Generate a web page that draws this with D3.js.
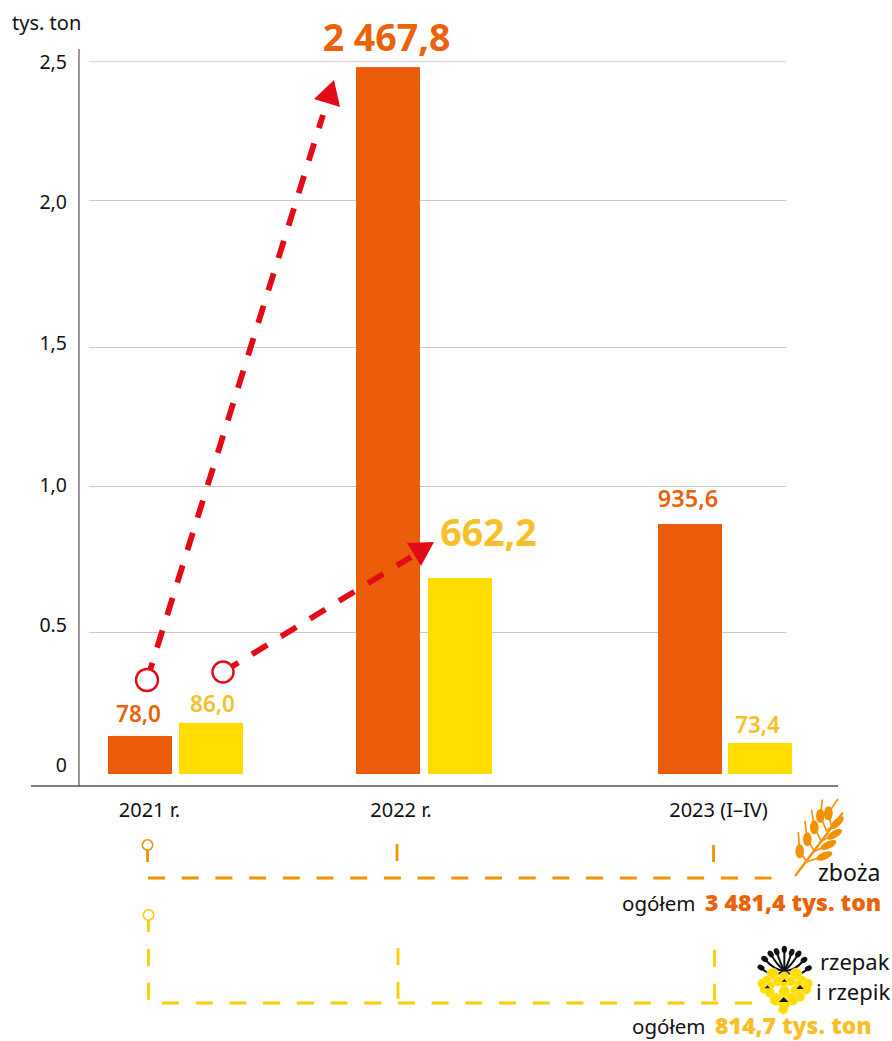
<!DOCTYPE html>
<html>
<head>
<meta charset="utf-8">
<script src="https://cdn.jsdelivr.net/npm/d3@7"></script>
<style>
  body { margin: 0; background: #fff; }
  svg { display: block; font-family: "Noto Sans", sans-serif; }
</style>
</head>
<body>
<div id="my_dataviz"></div>
<script>
// categories and values
const years = ["2021 r.", "2022 r.", "2023 (I–IV)"]
const zbozaLabels = ["78,0", "2 467,8", "935,6"]
const rzepakLabels = ["86,0", "662,2", "73,4"]
// bar heights as read against the axis of the picture (mln ton scale)
const zbozaHeights = [0.134, 2.478, 0.87]
const rzepakHeights = [0.18, 0.685, 0.109]
const tickValues = [0, 0.5, 1, 1.5, 2, 2.5]
const tickLabels = ["0", "0.5", "1,0", "1,5", "2,0", "2,5"]

const orange = "#eb5c0b"
const yellow = "#ffdd00"
const red = "#e30b17"
const orangeText = "#eb6209"
const yellowText = "#f8bf2a"
const orangeDash = "#f39200"
const yellowDash = "#ffcc00"

const svg = d3.select("#my_dataviz")
  .append("svg")
  .attr("width", 892)
  .attr("height", 1041)

// the grid in the picture is not quite even, so the scale goes through each tick
const yScale = d3.scaleLinear()
  .domain(tickValues)
  .range([774, 632, 486, 347, 200, 61])
const yLabel = d3.scaleLinear().domain(tickValues).range([771, 631, 491, 349, 208, 68])

const xZboza = d3.scaleOrdinal().domain(years).range([108, 356, 658])
const xRzepak = d3.scaleOrdinal().domain(years).range([179, 428, 728])
const xYear = d3.scaleOrdinal().domain(years).range([149.5, 401, 718.5])
const barWidth = 64

// gridlines
svg.append("g")
  .selectAll("line")
  .data(tickValues.slice(1))
  .join("line")
  .attr("x1", 89)
  .attr("x2", 786)
  .attr("y1", d => yScale(d) + 0.5)
  .attr("y2", d => yScale(d) + 0.5)
  .attr("stroke", d => d == 2.5 ? "#dedede" : "#c9c9c9")
  .attr("stroke-width", d => d == 2.5 ? 1.5 : 1)

// y axis
const yAxis = d3.axisLeft(yLabel)
  .tickValues(tickValues)
  .tickFormat((d, i) => tickLabels[i])
  .tickSize(0)
  .tickPadding(0)
svg.append("g")
  .attr("transform", "translate(67,0)")
  .call(yAxis)
  .call(g => g.select(".domain").remove())
  .selectAll("text")
  .attr("dy", 0)
  .attr("fill", "#111")
  .style("font-family", "'Noto Sans', sans-serif")
  .style("font-size", "19.5px")

svg.append("line")
  .attr("x1", 79).attr("x2", 79)
  .attr("y1", 49).attr("y2", 786)
  .attr("stroke", "#777").attr("stroke-width", 1.5)

svg.append("text")
  .attr("x", 12).attr("y", 30)
  .attr("font-size", 20).attr("fill", "#111")
  .text("tys. ton")

// bars
svg.append("g")
  .selectAll("rect")
  .data(years)
  .join("rect")
  .attr("x", d => xZboza(d))
  .attr("y", (d, i) => yScale(zbozaHeights[i]))
  .attr("width", barWidth)
  .attr("height", (d, i) => yScale(0) - yScale(zbozaHeights[i]))
  .attr("fill", orange)

svg.append("g")
  .selectAll("rect")
  .data(years)
  .join("rect")
  .attr("x", d => xRzepak(d))
  .attr("y", (d, i) => yScale(rzepakHeights[i]))
  .attr("width", barWidth)
  .attr("height", (d, i) => yScale(0) - yScale(rzepakHeights[i]))
  .attr("fill", yellow)

// x axis
svg.append("line")
  .attr("x1", 31).attr("x2", 838)
  .attr("y1", 786).attr("y2", 786)
  .attr("stroke", "#555").attr("stroke-width", 1.5)

svg.append("g")
  .selectAll("text")
  .data(years)
  .join("text")
  .attr("x", d => xYear(d))
  .attr("y", 817)
  .attr("text-anchor", "middle")
  .attr("font-size", 20)
  .attr("fill", "#111")
  .text(d => d)

// value labels
function valueLabel(txt, cx, y, size, color, weight) {
  svg.append("text")
    .attr("x", cx).attr("y", y)
    .attr("text-anchor", "middle")
    .attr("font-size", size)
    .attr("font-weight", weight)
    .attr("fill", color)
    .text(txt)
}
valueLabel(zbozaLabels[0], 138.5, 722, 22.5, orangeText, 600)
valueLabel(zbozaLabels[1], 386.5, 51, 37.5, orangeText, 700)
valueLabel(zbozaLabels[2], 688, 507, 23.5, orangeText, 600)
valueLabel(rzepakLabels[0], 212.5, 712, 22.5, yellowText, 600)
valueLabel(rzepakLabels[1], 488.5, 546, 37.5, yellowText, 700)
valueLabel(rzepakLabels[2], 757.5, 733, 22.5, yellowText, 600)

// red arrows: the dashes run out of the middle of the ring, its white fill hides them
function arrow(cx, cy, r, x2, y2, head) {
  svg.append("line")
    .attr("x1", cx).attr("y1", cy).attr("x2", x2).attr("y2", y2)
    .attr("stroke", red).attr("stroke-width", 5.8)
    .attr("stroke-dasharray", "18 16")
  svg.append("circle")
    .attr("cx", cx).attr("cy", cy).attr("r", r)
    .attr("fill", "#fff").attr("stroke", red).attr("stroke-width", 2.4)
  svg.append("polygon")
    .attr("points", head.join(" "))
    .attr("fill", red)
}
arrow(147, 680, 11, 323, 115, ["334,80", "314,99", "340,107"])
arrow(223, 672, 10.5, 411, 557, ["407,543", "434,542", "421,566"])

// dashed brackets under the chart
function dash(color, x1, y1, x2, y2, w) {
  svg.append("line")
    .attr("x1", x1).attr("y1", y1).attr("x2", x2).attr("y2", y2)
    .attr("stroke", color).attr("stroke-width", w || 2.8)
    .attr("stroke-dasharray", "17 16.7")
}
function pin(color, cx, cy) {
  svg.append("circle")
    .attr("cx", cx).attr("cy", cy).attr("r", 5.2)
    .attr("fill", "none").attr("stroke", color).attr("stroke-width", 1.6)
  svg.append("line")
    .attr("x1", cx).attr("y1", cy + 5).attr("x2", cx).attr("y2", cy + 17)
    .attr("stroke", color).attr("stroke-width", 2.8)
}
pin(orangeDash, 147.5, 845)
dash(orangeDash, 397, 844, 397, 861)
dash(orangeDash, 713.5, 845, 713.5, 862)
dash(orangeDash, 148, 878, 772, 878)

pin(yellowDash, 148.5, 915)
dash(yellowDash, 148.5, 949, 148.5, 1000)
dash(yellowDash, 398, 948, 398, 999)
dash(yellowDash, 714.5, 950, 714.5, 1001)
dash(yellowDash, 162, 1003, 752, 1003)

// wheat icon, drawn in zoomed units
const wheat = svg.append("g")
  .attr("transform", "translate(785,790) scale(0.3333)")
  .attr("fill", orangeDash)
  .attr("stroke", orangeDash)
  .attr("stroke-linecap", "round")
wheat.append("line").attr("x1", 32).attr("y1", 256).attr("x2", 172).attr("y2", 70)
  .attr("stroke-width", 7)
// body x, body y, awn tip x, awn tip y, foot on the stem x, y
const grainsLeft = [[44, 184, 40, 128, 66, 216], [67, 148, 60, 95, 88, 184], [88, 112, 80, 62, 108, 152], [106, 78, 112, 30, 124, 122], [130, 70, 158, 28, 138, 104]]
grainsLeft.forEach(g => {
  wheat.append("ellipse").attr("cx", g[0]).attr("cy", g[1]).attr("rx", 13).attr("ry", 21)
    .attr("stroke", "none")
  wheat.append("line").attr("x1", g[0]).attr("y1", g[1]).attr("x2", g[2]).attr("y2", g[3]).attr("stroke-width", 5)
  wheat.append("line").attr("x1", g[0]).attr("y1", g[1]).attr("x2", g[4]).attr("y2", g[5]).attr("stroke-width", 5)
})
// body x, body y, angle, foot x, foot y
const grainsRight = [[118, 198, -22, 70, 214], [130, 165, -25, 84, 186], [148, 133, -30, 104, 156], [156, 98, -42, 124, 122]]
grainsRight.forEach(g => {
  wheat.append("ellipse").attr("cx", g[0]).attr("cy", g[1]).attr("rx", 26).attr("ry", 11)
    .attr("stroke", "none")
    .attr("transform", `rotate(${g[2]} ${g[0]} ${g[1]})`)
  wheat.append("line").attr("x1", g[0]).attr("y1", g[1]).attr("x2", g[3]).attr("y2", g[4]).attr("stroke-width", 5)
})

// rapeseed icon, drawn in zoomed units
const rape = svg.append("g").attr("transform", "translate(750,940) scale(0.3333)")
const buds = [[103, 28], [80, 35], [125, 37], [62, 42], [145, 42], [44, 57], [162, 60], [33, 83], [175, 85]]
buds.forEach(b => {
  rape.append("ellipse").attr("cx", b[0]).attr("cy", b[1]).attr("rx", 8).attr("ry", 11).attr("fill", "#111")
    .attr("transform", `rotate(${(b[0] - 103) * 0.9} ${b[0]} ${b[1]})`)
  rape.append("path")
    .attr("d", `M${b[0]},${b[1]} Q${(b[0] + 103) / 2},${Math.max(b[1] + 35, 72)} 103,92`)
    .attr("fill", "none").attr("stroke", "#111").attr("stroke-width", 6)
})
const petals = [
  [68, 102, 18], [138, 102, 18], [50, 122, 15], [36, 130, 14], [62, 136, 13], [156, 122, 15], [174, 130, 14], [146, 132, 13],
  [103, 110, 15], [84, 124, 15], [122, 124, 15], [103, 134, 11],
  [42, 148, 13], [60, 158, 15], [138, 152, 17], [168, 148, 16], [150, 170, 15],
  [103, 155, 17], [78, 178, 19], [126, 178, 19], [103, 190, 18], [100, 208, 15]
]
petals.forEach(p => {
  rape.append("circle").attr("cx", p[0]).attr("cy", p[1]).attr("r", p[2])
    .attr("fill", yellow).attr("stroke", "#fff").attr("stroke-width", 1)
})
const centers = [[103, 122, 5], [52, 141, 5], [150, 142, 7], [101, 180, 9]]
centers.forEach(c => {
  rape.append("path")
    .attr("d", `M${c[0]},${c[1] - c[2]} L${c[0] + c[2] * 1.6},${c[1] + c[2] * 0.7} L${c[0] - c[2] * 1.6},${c[1] + c[2] * 0.7} Z`)
    .attr("fill", "#111")
})

// legend text
function legend(txt, x, y, size, color, weight) {
  svg.append("text")
    .attr("x", x).attr("y", y)
    .attr("font-size", size)
    .attr("font-weight", weight || 400)
    .attr("fill", color)
    .text(txt)
}
legend("zboża", 818, 881, 23, "#111")
legend("ogółem", 622, 911, 20.5, "#111")
legend("3 481,4 tys. ton", 705, 911, 23, orangeText, 900)
legend("rzepak", 820, 970, 22, "#111")
legend("i rzepik", 816, 1000, 22, "#111")
legend("ogółem", 632, 1034, 20.5, "#111")
legend("814,7 tys. ton", 715, 1034, 23, yellowText, 900)
</script>
</body>
</html>
